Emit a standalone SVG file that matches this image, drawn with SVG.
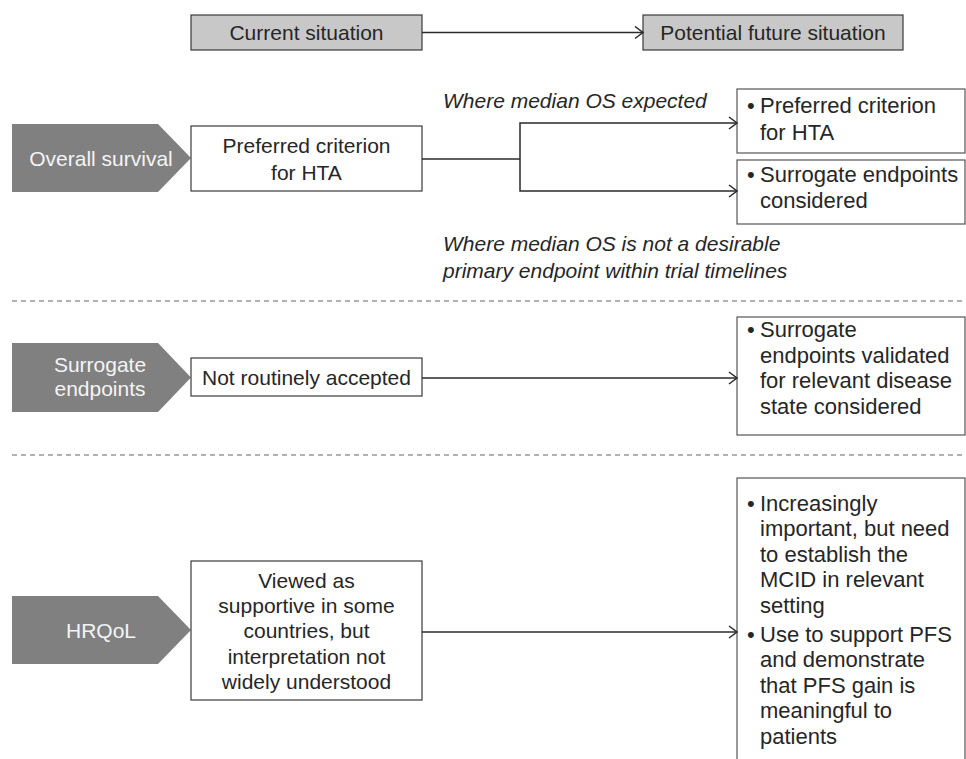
<svg xmlns="http://www.w3.org/2000/svg" width="966" height="759" viewBox="0 0 966 759">
<defs>
<style>
text{font-family:"Liberation Sans",Arial,sans-serif;font-size:21px;fill:#262626}
.r{font-size:22px}
.c{text-anchor:middle}
.w{fill:#f4f4f4}
.it{font-style:italic}
.hdr{fill:#c8c8c8;stroke:#3a3a3a;stroke-width:1.2}
.box{fill:#fff;stroke:#3a3a3a;stroke-width:1.2}
.rbox{fill:#fff;stroke:#555;stroke-width:1.2}
.chev{fill:#808080}
.ln{fill:none;stroke:#2a2a2a;stroke-width:1.5}
.dash{stroke:#666;stroke-width:1;stroke-dasharray:5,4}
</style>
<marker id="ah" markerUnits="userSpaceOnUse" markerWidth="12" markerHeight="14" refX="9" refY="7" orient="auto">
<path d="M1,1 L9,7 L1,13" fill="none" stroke="#2a2a2a" stroke-width="1.5"/>
</marker>
</defs>

<g id="header-current">
<rect class="hdr" x="191" y="15" width="231" height="35"/>
<text class="c" x="306.5" y="39.5">Current situation</text>
</g>
<g id="header-future">
<rect class="hdr" x="643" y="15" width="260" height="35"/>
<text class="c" x="773" y="39.5">Potential future situation</text>
</g>

<g id="os-label">
<polygon class="chev" points="12,124 158,124 191,158 158,192 12,192"/>
<text class="c w" x="101" y="165.5">Overall survival</text>
</g>
<g id="os-current">
<rect class="box" x="191" y="126" width="231" height="65"/>
<text class="c" x="306.5" y="152.5">Preferred criterion</text>
<text class="c" x="306.5" y="179.5">for HTA</text>
</g>
<g id="os-future-1">
<rect class="rbox" x="737" y="89" width="228" height="64"/>
<text class="r" x="747" y="113">•</text>
<text class="r" x="760" y="113">Preferred criterion</text>
<text class="r" x="760" y="140">for HTA</text>
</g>
<g id="os-future-2">
<rect class="rbox" x="737" y="160" width="228" height="64"/>
<text class="r" x="747" y="182">•</text>
<text class="r" x="760" y="182">Surrogate endpoints</text>
<text class="r" x="760" y="208">considered</text>
</g>
<g id="os-notes">
<text class="it" x="443" y="108">Where median OS expected</text>
<text class="it" x="443" y="251">Where median OS is not a desirable</text>
<text class="it" x="443" y="278">primary endpoint within trial timelines</text>
</g>

<g id="separators">
<line class="dash" x1="12" y1="301" x2="966" y2="301"/>
<line class="dash" x1="12" y1="455" x2="966" y2="455"/>
</g>

<g id="se-label">
<polygon class="chev" points="12,343 158,343 191,377.5 158,412 12,412"/>
<text class="c w" x="100" y="372">Surrogate</text>
<text class="c w" x="100" y="396">endpoints</text>
</g>
<g id="se-current">
<rect class="box" x="191" y="358" width="231" height="38"/>
<text class="c" x="306.5" y="385">Not routinely accepted</text>
</g>
<g id="se-future">
<rect class="rbox" x="737" y="317" width="228" height="118"/>
<text class="r" x="747" y="337">•</text>
<text class="r" x="760" y="337">Surrogate</text>
<text class="r" x="760" y="362.5">endpoints validated</text>
<text class="r" x="760" y="388">for relevant disease</text>
<text class="r" x="760" y="413.5">state considered</text>
</g>

<g id="hrqol-label">
<polygon class="chev" points="12,596 158,596 191,630 158,664 12,664"/>
<text class="c w" x="101" y="637.5">HRQoL</text>
</g>
<g id="hrqol-current">
<rect class="box" x="191" y="561" width="231" height="139"/>
<text class="c" x="306.5" y="587.5">Viewed as</text>
<text class="c" x="306.5" y="612.5">supportive in some</text>
<text class="c" x="306.5" y="638">countries, but</text>
<text class="c" x="306.5" y="663.5">interpretation not</text>
<text class="c" x="306.5" y="689">widely understood</text>
</g>
<g id="hrqol-future">
<rect class="rbox" x="737" y="478" width="228" height="300"/>
<text class="r" x="747" y="510.5">•</text>
<text class="r" x="760" y="510.5">Increasingly</text>
<text class="r" x="760" y="536">important, but need</text>
<text class="r" x="760" y="561.5">to establish the</text>
<text class="r" x="760" y="587">MCID in relevant</text>
<text class="r" x="760" y="612.5">setting</text>
<text class="r" x="747" y="641.5">•</text>
<text class="r" x="760" y="641.5">Use to support PFS</text>
<text class="r" x="760" y="667">and demonstrate</text>
<text class="r" x="760" y="692.5">that PFS gain is</text>
<text class="r" x="760" y="718">meaningful to</text>
<text class="r" x="760" y="743.5">patients</text>
</g>

<g id="connectors">
<line class="ln" x1="422" y1="32.5" x2="643" y2="32.5" marker-end="url(#ah)"/>
<polyline class="ln" points="422,159 520,159"/>
<polyline class="ln" points="520,159 520,123 737,123" marker-end="url(#ah)"/>
<polyline class="ln" points="520,159 520,191 737,191" marker-end="url(#ah)"/>
<line class="ln" x1="422" y1="378" x2="737" y2="378" marker-end="url(#ah)"/>
<line class="ln" x1="422" y1="632" x2="737" y2="632" marker-end="url(#ah)"/>
</g>
</svg>
